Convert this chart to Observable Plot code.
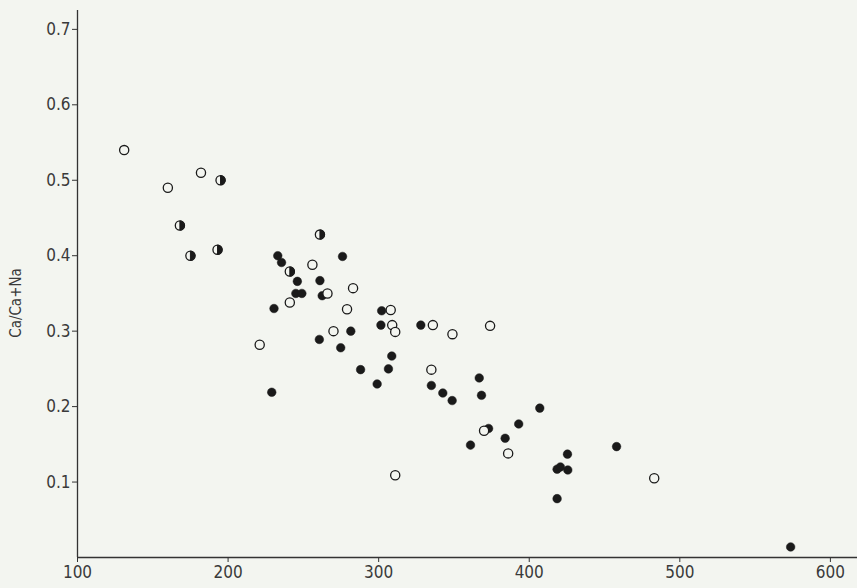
<!DOCTYPE html>
<html>
<head>
<meta charset="utf-8">
<script src="https://cdn.jsdelivr.net/npm/d3@7"></script>
<script src="https://cdn.jsdelivr.net/npm/@observablehq/plot@0.6"></script>
<style>
  html, body { margin: 0; padding: 0; background: #f3f5f0; }
  #chart svg { background: #f3f5f0; display: block; }
</style>
</head>
<body>
<div id="chart"></div>
<script>
// Open circles
const openX = [131, 160, 182, 256, 241, 266, 283, 279, 308, 309, 311, 270, 221, 336, 349, 374, 335, 370, 386, 311, 483];
const openY = [0.540, 0.490, 0.510, 0.388, 0.338, 0.350, 0.357, 0.329, 0.328, 0.308, 0.299, 0.300, 0.282, 0.308, 0.296, 0.307, 0.249, 0.168, 0.138, 0.109, 0.105];
// Half-filled circles
const halfX = [195, 168, 175, 193, 241, 261];
const halfY = [0.500, 0.440, 0.400, 0.408, 0.379, 0.428];
// Filled circles
const filledX = [233, 235.5, 246, 245, 249, 230.5, 229, 276, 261, 262.5, 302, 301.5, 328, 281.5, 260.6, 274.8, 308.7, 306.5, 288, 299, 335, 342.6, 348.8, 366.8, 368.3, 407, 393, 373, 384, 361, 425.4, 418.5, 420.7, 425.6, 418.5, 458, 573.6];
const filledY = [0.400, 0.391, 0.366, 0.350, 0.350, 0.330, 0.219, 0.399, 0.367, 0.347, 0.327, 0.308, 0.308, 0.300, 0.289, 0.278, 0.267, 0.250, 0.249, 0.230, 0.228, 0.218, 0.208, 0.238, 0.215, 0.198, 0.177, 0.171, 0.158, 0.149, 0.137, 0.117, 0.120, 0.116, 0.078, 0.147, 0.014];

const xTicks = [100, 200, 300, 400, 500, 600];
const yTicks = [0.1, 0.2, 0.3, 0.4, 0.5, 0.6, 0.7];
const yLabel = "Ca/Ca+Na";

const openData = openX.map((x, i) => ({x, y: openY[i]}));
const halfData = halfX.map((x, i) => ({x, y: halfY[i]}));
const filledData = filledX.map((x, i) => ({x, y: filledY[i]}));

const halfDisk = {
  draw(context, size) {
    const r = Math.sqrt(size / Math.PI);
    context.moveTo(0, -r);
    context.arc(0, 0, r, -Math.PI / 2, Math.PI / 2);
    context.closePath();
  }
};

const ink = "#1a1a1a";
const bg = "#f3f5f0";
const font = "'DejaVu Sans Condensed', 'Liberation Sans Narrow', 'DejaVu Sans', sans-serif";

const chart = Plot.plot({
  width: 857,
  height: 588,
  marginLeft: 77,
  marginRight: 0,
  marginTop: 10,
  marginBottom: 31,
  style: { background: bg, fontFamily: font, fontSize: "16px", color: "#3a3a3a" },
  x: { domain: [100, 618], ticks: xTicks },
  y: { domain: [0, 0.725], ticks: yTicks },
  marks: [
    Plot.ruleY([0], { stroke: "#333", strokeWidth: 1.3 }),
    Plot.ruleX([100], { stroke: "#333", strokeWidth: 1.3 }),
    Plot.axisX({ ticks: xTicks, tickSize: 5, tickPadding: 3, tickFormat: d => String(d), label: null, stroke: "#333", fill: "#3a3a3a", fontSize: 17 }),
    Plot.axisY({ ticks: yTicks, tickSize: 5, tickPadding: 2, tickFormat: d => d.toFixed(1), label: null, stroke: "#333", fill: "#3a3a3a", fontSize: 17 }),
    Plot.text([yLabel], { frameAnchor: "left", textAnchor: "middle", dx: -61, dy: 19, rotate: -90, text: d => d, fontSize: 15, fill: "#3a3a3a" }),
    Plot.dot(filledData, { x: "x", y: "y", r: 4.3, fill: ink, stroke: ink, strokeWidth: 0.5 }),
    Plot.dot(openData, { x: "x", y: "y", r: 4.6, fill: bg, stroke: ink, strokeWidth: 1.3 }),
    Plot.dot(halfData, { x: "x", y: "y", r: 4.6, fill: bg, stroke: ink, strokeWidth: 1.3 }),
    Plot.dot(halfData, { x: "x", y: "y", r: 4.6, symbol: halfDisk, fill: ink, stroke: ink, strokeWidth: 1 })
  ]
});
document.getElementById("chart").appendChild(chart);
</script>
</body>
</html>
